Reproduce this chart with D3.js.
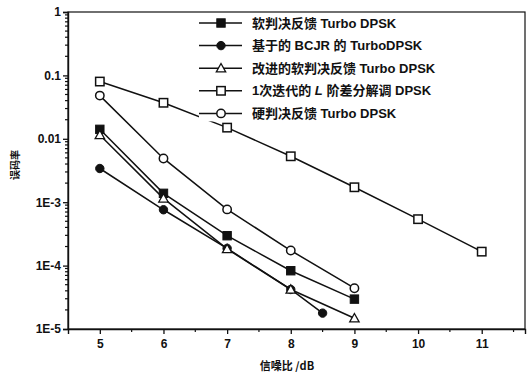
<!DOCTYPE html>
<html><head><meta charset="utf-8">
<script src="https://cdn.jsdelivr.net/npm/d3@7/dist/d3.min.js"></script>
<style>
html,body{margin:0;padding:0;background:#fff;}
svg{display:block;}
text{font-family:"Liberation Sans",Arial,"Noto Sans CJK SC",sans-serif;font-weight:bold;fill:#111;}
</style></head>
<body>
<svg id="c" width="530" height="374"></svg>
<script>
const seriesNames = [
  "软判决反馈 Turbo DPSK",
  "基于的 BCJR 的 TurboDPSK",
  "改进的软判决反馈 Turbo DPSK",
  "1次迭代的 |L| 阶差分解调 DPSK",
  "硬判决反馈 Turbo DPSK"
];
const markerTypes = ["squareFilled","circleFilled","triangle","squareOpen","circleOpen"];
const xSoft = [5,6,7,8,9];
const ySoft = [0.0141,1.38e-3,2.96e-4,8.3e-5,2.96e-5];
const xBcjr = [5,6,7,8,8.5];
const yBcjr = [3.4e-3,7.6e-4,1.87e-4,4.2e-5,1.78e-5];
const xImproved = [5,6,7,8,9];
const yImproved = [0.0115,1.15e-3,1.83e-4,4.2e-5,1.48e-5];
const xIter = [5,6,7,8,9,10,11];
const yIter = [0.08,0.037,0.015,0.0053,1.72e-3,5.4e-4,1.66e-4];
const xHard = [5,6,7,8,9];
const yHard = [0.048,4.9e-3,7.7e-4,1.73e-4,4.4e-5];
const xTicks = [5,6,7,8,9,10,11];
const yTickVals = [1,0.1,0.01,1e-3,1e-4,1e-5];
const yTickLabels = ["1","0.1","0.01","1E-3","1E-4","1E-5"];
const xLabel = "信噪比 /dB";
const yLabel = "误码率";

const xs = [xSoft,xBcjr,xImproved,xIter,xHard];
const ys = [ySoft,yBcjr,yImproved,yIter,yHard];

const svg = d3.select("#c");
const L=68, R=525, T=12, B=329;
const x = d3.scaleLinear().domain([4.5,11.68]).range([L,R]);
const y = d3.scaleLog().domain([1e-5,1]).range([B,T]);

// frame
svg.append("rect").attr("x",L).attr("y",T).attr("width",R-L).attr("height",B-T)
  .attr("fill","none").attr("stroke","#111").attr("stroke-width",1.2);

// x axis
const xAxis = svg.append("g").attr("transform",`translate(0,${B})`)
  .call(d3.axisBottom(x).tickValues(xTicks).tickFormat(d3.format("d")).tickSize(5).tickPadding(5));
const xMinor = d3.range(5.5,11.6,1);
svg.append("g").selectAll("line").data(xMinor).join("line")
  .attr("x1",d=>x(d)).attr("x2",d=>x(d)).attr("y1",B).attr("y2",B+3)
  .attr("stroke","#111").attr("stroke-width",1.2);

// y axis
const yAxis = svg.append("g").attr("transform",`translate(${L},0)`)
  .call(d3.axisLeft(y).tickValues(yTickVals).tickFormat((d,i)=>yTickLabels[i]).tickSize(5).tickPadding(2));
const yMinor = [];
for (let e=-5;e<0;e++) for (let m=2;m<10;m++) yMinor.push(m*Math.pow(10,e));
svg.append("g").selectAll("line").data(yMinor).join("line")
  .attr("x1",L-3).attr("x2",L).attr("y1",d=>y(d)).attr("y2",d=>y(d))
  .attr("stroke","#111").attr("stroke-width",1.2);

[xAxis,yAxis].forEach(g=>{
  g.select(".domain").attr("stroke","#111").attr("stroke-width",1.4);
  g.selectAll(".tick line").attr("stroke","#111").attr("stroke-width",1.3);
  g.selectAll(".tick text").attr("font-size",12).attr("font-weight","bold")
    .attr("font-family","'Liberation Sans',Arial,sans-serif").attr("fill","#111");
});

// axis labels
svg.append("text").attr("x",287).attr("y",370).attr("text-anchor","middle")
  .attr("font-size",11).style("font-family","'Noto Sans CJK SC','Liberation Sans',sans-serif").text(xLabel);
svg.append("text").attr("transform","translate(19,165) rotate(-90)").attr("text-anchor","middle")
  .attr("font-size",10).style("font-family","'Noto Sans CJK SC',sans-serif").text(yLabel);

// markers
function drawMarker(g, type, cx, cy){
  const s = 4.2;
  if (type==="squareFilled") g.append("rect").attr("x",cx-s).attr("y",cy-s).attr("width",2*s).attr("height",2*s).attr("fill","#111").attr("stroke","#111");
  else if (type==="squareOpen") g.append("rect").attr("x",cx-s).attr("y",cy-s).attr("width",2*s).attr("height",2*s).attr("fill","#fff").attr("stroke","#111").attr("stroke-width",1.5);
  else if (type==="circleFilled") g.append("circle").attr("cx",cx).attr("cy",cy).attr("r",s).attr("fill","#111").attr("stroke","#111");
  else if (type==="circleOpen") g.append("circle").attr("cx",cx).attr("cy",cy).attr("r",s).attr("fill","#fff").attr("stroke","#111").attr("stroke-width",1.5);
  else if (type==="triangle") g.append("path").attr("d",`M${cx},${cy-s-0.5}L${cx+s+0.5},${cy+s-0.5}L${cx-s-0.5},${cy+s-0.5}Z`).attr("fill","#fff").attr("stroke","#111").attr("stroke-width",1.3);
}

const line = d3.line().x(d=>x(d[0])).y(d=>y(d[1]));
const plot = svg.append("g");
xs.forEach((xv,i)=>{
  const pts = xv.map((v,j)=>[v, ys[i][j]]);
  plot.append("path").datum(pts).attr("d",line).attr("fill","none").attr("stroke","#111").attr("stroke-width",1.5);
});
xs.forEach((xv,i)=>{
  const g = plot.append("g");
  xv.forEach((v,j)=>drawMarker(g, markerTypes[i], x(v), y(ys[i][j])));
});

// legend
const legY0 = 23, legDy = 22.6;
const leg = svg.append("g");
seriesNames.forEach((name,i)=>{
  const yy = legY0 + i*legDy;
  leg.append("rect").attr("x",199).attr("y",yy-8).attr("width",300).attr("height",16).attr("fill","#fff");
});
seriesNames.forEach((name,i)=>{
  const yy = legY0 + i*legDy;
  leg.append("line").attr("x1",199).attr("x2",242).attr("y1",yy).attr("y2",yy).attr("stroke","#111").attr("stroke-width",1.5);
  drawMarker(leg, markerTypes[i], 221, yy);
  const t = leg.append("text").attr("x",252).attr("y",yy+4.5).attr("font-size",13)
    .style("font-family","'Liberation Sans','Noto Sans CJK SC',sans-serif");
  name.split("|").forEach((part,k)=>{
    t.append("tspan").attr("font-style", k===1 ? "italic" : "normal").text(part);
  });
});
</script>
</body></html>
